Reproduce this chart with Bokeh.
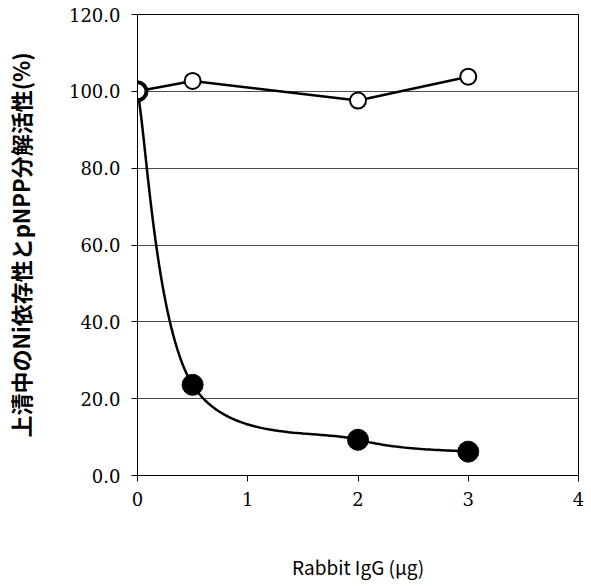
from bokeh.plotting import figure
from bokeh.models import Range1d, FixedTicker
from bokeh.embed import file_html
from bokeh.resources import INLINE
import numpy as np

# data
x_open = [0, 0.5, 2, 3]
y_open = [100.0, 102.7, 97.6, 103.8]
x_filled = [0, 0.5, 2, 3]
y_filled = [100.0, 23.6, 9.3, 6.2]
y_ticks = [0, 20, 40, 60, 80, 100, 120]
y_tick_labels = ["0.0", "20.0", "40.0", "60.0", "80.0", "100.0", "120.0"]
x_ticks = [0, 1, 2, 3, 4]

p = figure(width=585, height=582, output_backend="svg", toolbar_location=None,
           x_range=Range1d(0, 4), y_range=Range1d(0, 120),
           min_border_left=137, min_border_right=7, min_border_top=14, min_border_bottom=106)
p.background_fill_color = "white"
p.border_fill_color = "white"
p.outline_line_color = "black"
p.outline_line_width = 1

p.xgrid.grid_line_color = None
p.ygrid.grid_line_color = "#4d4d4d"
p.ygrid.grid_line_width = 1

p.yaxis.ticker = FixedTicker(ticks=y_ticks)
p.yaxis.major_label_overrides = {t: l for t, l in zip(y_ticks, y_tick_labels)}
p.xaxis.ticker = FixedTicker(ticks=x_ticks)
for ax in (p.xaxis, p.yaxis):
    ax.major_label_text_font = "DejaVu Serif"
    ax.major_label_text_font_size = "18px"
    ax.major_label_text_color = "black"
    ax.axis_line_color = "black"
    ax.major_tick_line_color = "black"
    ax.major_tick_in = 0
    ax.major_tick_out = 6
    ax.minor_tick_line_color = None
    ax.axis_label_text_color = "black"
p.yaxis.major_label_standoff = 11
p.xaxis.major_label_standoff = 10

p.xaxis.axis_label = "Rabbit IgG (μg)"
p.xaxis.axis_label_text_font = "Noto Sans CJK JP"
p.xaxis.axis_label_text_font_style = "normal"
p.xaxis.axis_label_text_font_size = "19px"
p.xaxis.axis_label_standoff = 44

p.yaxis.axis_label = "上清中のNi依存性とpNPP分解活性(%)"
p.yaxis.axis_label_text_font = "Noto Sans CJK JP"
p.yaxis.axis_label_text_font_style = "bold"
p.yaxis.axis_label_text_font_size = "22px"
p.yaxis.axis_label_standoff = 30

# smoothed curve (Excel-like Bezier) computed in pixel-proportional space
sx, sy = 110.0, 3.85
P = [(x * sx, y * sy) for x, y in zip(x_filled, y_filled)]
cx, cy = [], []
n = len(P)
for i in range(n - 1):
    p0 = P[i - 1] if i > 0 else P[i]
    p1 = P[i]
    p2 = P[i + 1]
    p3 = P[i + 2] if i + 2 < n else P[i + 1]
    c1 = (p1[0] + (p2[0] - p0[0]) / 6, p1[1] + (p2[1] - p0[1]) / 6)
    c2 = (p2[0] - (p3[0] - p1[0]) / 6, p2[1] - (p3[1] - p1[1]) / 6)
    t = np.linspace(0, 1, 40)
    bx = (1 - t) ** 3 * p1[0] + 3 * (1 - t) ** 2 * t * c1[0] + 3 * (1 - t) * t ** 2 * c2[0] + t ** 3 * p2[0]
    by = (1 - t) ** 3 * p1[1] + 3 * (1 - t) ** 2 * t * c1[1] + 3 * (1 - t) * t ** 2 * c2[1] + t ** 3 * p2[1]
    cx.extend(list(bx / sx))
    cy.extend(list(by / sy))

p.line(cx, cy, line_color="black", line_width=2.5)
p.scatter(x_filled, y_filled, size=21, fill_color="black", line_color="black")

p.line(x_open, y_open, line_color="black", line_width=2.5)
p.scatter(x_open, y_open, size=16, fill_color="white", line_color="black", line_width=2)

open("out.html", "w").write(file_html(p, INLINE))
